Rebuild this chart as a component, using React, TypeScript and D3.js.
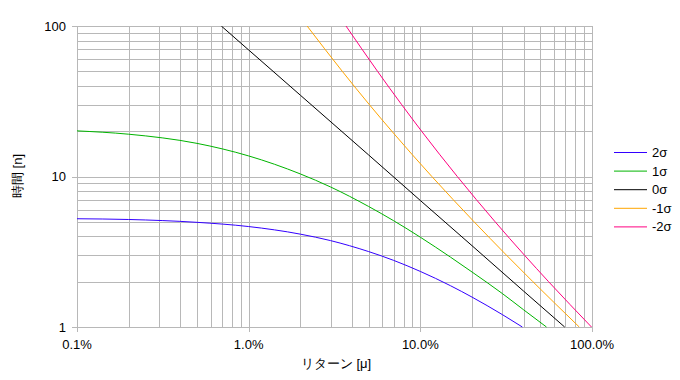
import React from "react";
import * as d3 from "d3";

// Series data: return μ (fraction) -> time n
const mu2s = [0.001, 0.002, 0.005, 0.01, 0.02, 0.03, 0.05, 0.07, 0.1, 0.15, 0.2, 0.3, 0.393];
const n2s = [5.24, 5.18, 4.96, 4.65, 4.14, 3.75, 3.17, 2.77, 2.34, 1.88, 1.58, 1.21, 1.0];

const mu1s = [0.001, 0.002, 0.005, 0.01, 0.02, 0.03, 0.05, 0.07, 0.1, 0.15, 0.2, 0.3, 0.4, 0.543];
const n1s = [20.1, 19.1, 16.6, 13.7, 10.4, 8.52, 6.32, 5.08, 3.95, 2.91, 2.32, 1.67, 1.3, 1.0];

const mu0s = [0.00693, 0.01, 0.02, 0.05, 0.1, 0.2, 0.4, 0.693];
const n0s = [100, 69.3, 34.7, 13.9, 6.93, 3.47, 1.73, 1.0];

const muM1s = [0.0219, 0.0351, 0.0505, 0.0682, 0.1167, 0.2057, 0.3176, 0.4526, 0.843];
const nM1s = [100, 50, 30, 20, 10, 5, 3, 2, 1];

const muM2s = [0.0369, 0.0563, 0.0779, 0.1017, 0.1642, 0.2728, 0.4042, 0.5587, 0.993];
const nM2s = [100, 50, 30, 20, 10, 5, 3, 2, 1];

const seriesNames = ["2σ", "1σ", "0σ", "-1σ", "-2σ"];
const seriesColors = ["#3300ff", "#00b400", "#000000", "#ffa500", "#ff0080"];
const seriesMu = [mu2s, mu1s, mu0s, muM1s, muM2s];
const seriesN = [n2s, n1s, n0s, nM1s, nM2s];

const xTickValues = [0.001, 0.01, 0.1, 1];
const xTickLabels = ["0.1%", "1.0%", "10.0%", "100.0%"];
const yTickValues = [1, 10, 100];
const yTickLabels = ["1", "10", "100"];

const xTitle = "リターン [μ]";
const yTitle = "時間 [n]";

export default function App() {
  const W = 680;
  const H = 380;
  const left = 77, right = 592, top = 26, bottom = 327;
  const x = d3.scaleLog().domain([0.001, 1]).range([left, right]);
  const y = d3.scaleLog().domain([1, 100]).range([bottom, top]);

  const minorX: number[] = [];
  for (let e = -3; e < 0; e++) for (let m = 1; m <= 10; m++) minorX.push(m * Math.pow(10, e));
  const minorY: number[] = [];
  for (let e = 0; e < 2; e++) for (let m = 1; m <= 10; m++) minorY.push(m * Math.pow(10, e));

  const snap = (v: number) => Math.round(v) + 0.5;
  const line = d3
    .line<[number, number]>()
    .x((d) => x(d[0]))
    .y((d) => y(d[1]))
    .curve(d3.curveMonotoneX);

  const font = "'Liberation Sans', Arial, sans-serif";
  const gridColor = "#b8b8b8";

  return (
    <svg
      width={W}
      height={H}
      style={{ position: "absolute", left: 0, top: 0, background: "#fff" }}
      fontFamily={font}
    >
      <defs>
        <clipPath id="plot">
          <rect x={left} y={top} width={right - left + 1} height={bottom - top + 1} />
        </clipPath>
      </defs>
      <rect x={0} y={0} width={W} height={H} fill="#fff" />
      {minorX.map((v, i) => (
        <line key={"gx" + i} x1={snap(x(v))} x2={snap(x(v))} y1={top} y2={bottom + 1} stroke={gridColor} strokeWidth={1} />
      ))}
      {minorY.map((v, i) => (
        <line key={"gy" + i} x1={left} x2={right + 1} y1={snap(y(v))} y2={snap(y(v))} stroke={gridColor} strokeWidth={1} />
      ))}
      {xTickValues.map((v, i) => (
        <g key={"xt" + i}>
          <line x1={snap(x(v))} x2={snap(x(v))} y1={bottom} y2={bottom + 5} stroke={gridColor} />
          <text x={x(v)} y={349} fontSize={13} textAnchor="middle" fill="#000">
            {xTickLabels[i]}
          </text>
        </g>
      ))}
      {yTickValues.map((v, i) => (
        <g key={"yt" + i}>
          <line x1={left - 5} x2={left} y1={snap(y(v))} y2={snap(y(v))} stroke={gridColor} />
          <text x={66} y={y(v) + 4.5} fontSize={13} textAnchor="end" fill="#000">
            {yTickLabels[i]}
          </text>
        </g>
      ))}
      <g clipPath="url(#plot)">
        {seriesNames.map((name, i) => {
          const pts: [number, number][] = seriesMu[i].map((m, j) => [m, seriesN[i][j]]);
          return (
            <path key={name} d={line(pts) || ""} fill="none" stroke={seriesColors[i]} strokeWidth={1} />
          );
        })}
      </g>
      <text x={336} y={368} fontSize={13} textAnchor="middle" fill="#000">
        {xTitle}
      </text>
      <text
        transform={`translate(22,176) rotate(-90)`}
        fontSize={13}
        textAnchor="middle"
        fill="#000"
      >
        {yTitle}
      </text>
      {seriesNames.map((name, i) => {
        const ly = 152.5 + i * 18.6;
        return (
          <g key={"lg" + i}>
            <line x1={614} x2={647} y1={ly} y2={ly} stroke={seriesColors[i]} strokeWidth={1} />
            <text x={652} y={ly + 4.5} fontSize={13} fill="#000">
              {name}
            </text>
          </g>
        );
      })}
    </svg>
  );
}
